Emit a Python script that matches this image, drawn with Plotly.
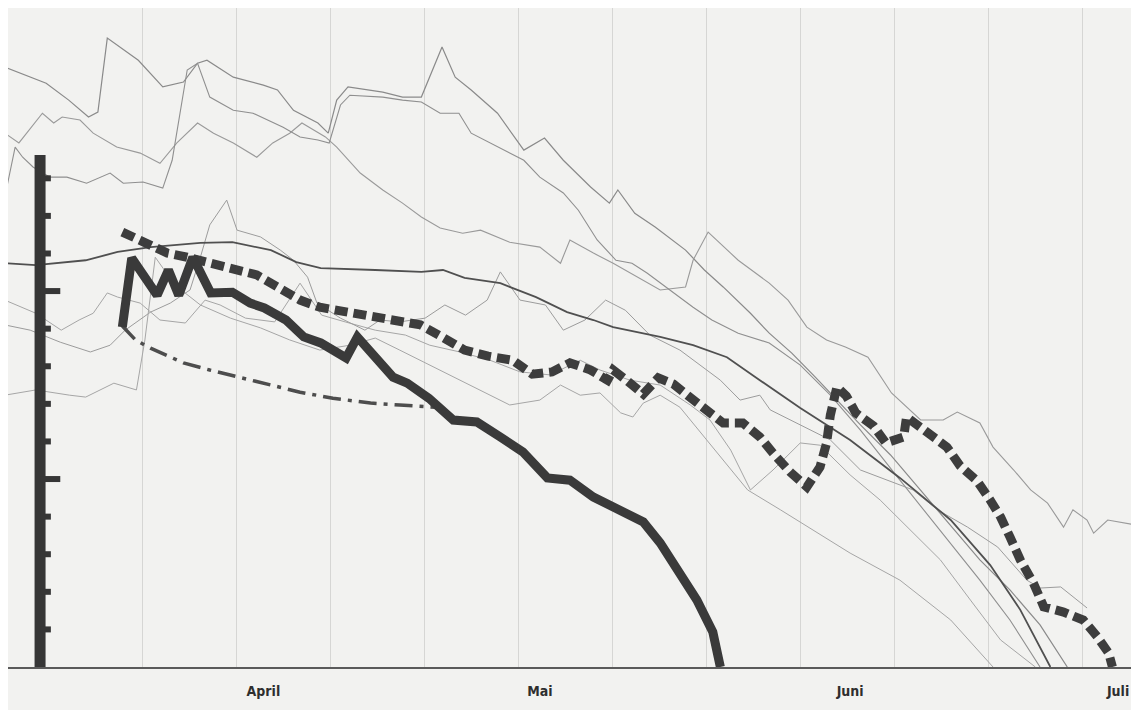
import plotly.graph_objects as go

# x: days (10-day grid), y: snow depth (cm, 10 per scale tick)
months = ["April", "Mai", "Juni", "Juli"]
month_pos = [22.9, 52.3, 85.3, 113.8]
grid_days = [10, 20, 30, 40, 50, 60, 70, 80, 90, 100, 110]

# thick solid series
thick_x = [7.9, 8.9, 11.6, 12.8, 13.9, 15.4, 17.3, 19.6, 21.5, 23.0, 25.3, 27.2, 29.0, 31.7, 32.9, 34.8,
           36.7, 38.2, 40.5, 43.1, 45.6, 48.1, 50.5, 53.1, 55.5, 58.0, 60.9, 63.3, 65.1, 67.2, 69.0, 70.7, 71.5]
thick_y = [90.4, 108.8, 98.9, 105.6, 98.9, 109.0, 99.5, 99.7, 96.8, 95.5, 92.3, 87.8, 86.2, 82.2, 87.8, 82.4,
           77.1, 75.5, 71.5, 65.7, 65.2, 61.2, 57.2, 50.3, 49.7, 45.2, 41.8, 38.6, 33.0, 25.0, 17.8, 9.3, 0]

# thick dashed series
dash_x = [7.9, 10.9, 12.7, 14.8, 17.2, 19.7, 22.2, 24.4, 26.8, 28.9, 31.8, 34.3, 37.1, 39.6, 41.9, 44.3,
          46.8, 49.4, 51.5, 53.6, 55.5, 57.7, 59.5, 60.1, 61.6, 63.3, 64.9, 66.5, 68.1, 70.1, 71.8, 73.9,
          75.7, 77.1, 78.9, 80.7, 82.1, 82.8, 83.2, 83.9, 84.9, 85.9, 87.8, 89.1, 91.0, 91.3, 92.8, 94.1,
          95.6, 97.0, 98.8, 100.2, 101.3, 102.3, 103.4, 104.8, 105.9, 108.0, 110.1, 111.6, 112.8, 113.2]
dash_y = [115.7, 112.2, 110.1, 109.0, 107.4, 106.1, 104.3, 101.1, 97.6, 95.7, 94.4, 93.6, 91.8, 91.0, 87.8, 84.3,
          82.7, 81.6, 77.9, 78.5, 80.9, 79.0, 76.3, 79.0, 76.1, 72.6, 76.9, 75.3, 72.1, 67.8, 64.9, 64.9,
          61.2, 56.9, 51.9, 47.9, 53.2, 59.6, 67.0, 74.5, 72.1, 67.6, 64.1, 59.6, 61.2, 66.5, 63.6, 61.2,
          58.5, 53.5, 49.5, 44.4, 39.9, 34.6, 28.5, 22.3, 16.0, 14.6, 12.5, 8.0, 3.7, 0]

# dash-dot series
dd_x = [7.9, 9.3, 10.9, 14.4, 17.2, 21.5, 26.8, 30.3, 34.3, 37.4, 41.2]
dd_y = [90.7, 87.0, 84.8, 80.9, 79.0, 76.3, 73.1, 71.5, 70.2, 69.7, 69.1]

# dark thin solid series
d_x = [-4.6, -1.3, 4.0, 7.4, 10.9, 16.2, 19.6, 23.7, 26.4, 29.0, 34.8, 39.7, 42.0, 44.3, 48.1, 51.9,
       55.2, 58.0, 60.1, 65.1, 68.6, 72.2, 75.7, 80.0, 85.3, 90.6, 96.0, 100.2, 103.4, 106.6]
d_y = [107.4, 106.9, 108.2, 110.4, 111.7, 112.8, 113.0, 110.9, 107.7, 106.1, 105.6, 105.1, 105.6, 103.5, 102.1, 98.4,
       94.4, 92.3, 90.4, 87.8, 85.6, 82.4, 76.3, 68.9, 60.4, 50.3, 39.1, 27.1, 15.2, 0]

# thin grey series
a_x = [-4.6, -0.2, 2.2, 4.3, 5.3, 6.3, 9.6, 12.2, 14.4, 15.9, 16.9, 19.7, 22.9, 24.4, 26.1, 28.7, 29.8,
       30.7, 31.9, 35.6, 37.7, 39.7, 41.9, 43.3, 45.0, 47.8, 50.6, 52.8, 54.8, 57.7, 59.7, 60.6, 62.4,
       64.6, 67.8, 69.8, 71.8, 74.7, 76.7, 79.1, 81.6, 83.2, 86.4, 89.6, 92.8, 96.0, 99.1, 102.3, 105.5, 108.4]
a_y = [159.6, 155.3, 150.8, 146.3, 147.6, 167.3, 161.4, 154.3, 155.6, 160.6, 161.4, 156.9, 154.8, 153.5, 148.1, 144.7, 142.0,
       150.8, 154.3, 152.9, 151.6, 151.6, 164.9, 156.9, 153.5, 147.3, 137.5, 140.7, 134.8, 127.7, 123.4, 126.9, 120.7,
       117.0, 110.9, 105.6, 101.1, 94.1, 88.8, 83.5, 77.1, 72.9, 64.4, 56.4, 47.1, 37.8, 28.5, 20.5, 11.2, 0]

b_x = [-4.6, -3.1, -0.6, 0.6, 1.5, 3.4, 4.8, 7.3, 9.8, 11.9, 13.7, 15.9, 17.6, 19.7, 22.2, 23.9, 25.7,
       27.0, 29.5, 30.7, 33.2, 35.6, 37.7, 39.7, 41.7, 44.1, 46.0, 49.1, 52.3, 54.5, 55.5, 58.0, 60.1,
       62.7, 65.1, 67.8, 68.6, 70.2, 71.4, 73.4, 76.7, 78.7, 80.7, 82.8, 84.8, 87.2, 89.7, 92.8, 95.2,
       96.7, 99.1, 100.5, 102.7, 104.5, 106.3, 108.0, 109.0, 110.5, 111.2, 112.7, 115.6]
b_y = [142.0, 139.4, 147.3, 144.7, 146.3, 145.5, 142.0, 138.3, 136.7, 134.0, 139.4, 144.7, 142.0, 139.4, 135.6, 139.4, 142.0,
       144.7, 141.0, 138.3, 131.4, 126.9, 123.4, 119.7, 116.8, 115.4, 116.2, 113.0, 111.7, 107.4, 113.6, 110.1, 107.4,
       103.7, 100.3, 101.1, 108.2, 115.7, 112.8, 108.2, 102.1, 97.6, 90.4, 87.0, 85.1, 82.4, 72.9, 65.7, 65.7,
       67.8, 64.9, 58.5, 52.4, 47.1, 43.6, 37.2, 41.8, 39.1, 35.6, 39.1, 37.8]

c_x = [-4.6, -3.5, -2.7, -1.6, 0.2, 2.0, 4.1, 6.6, 8.0, 10.1, 12.2, 13.2, 14.8, 15.9, 17.2, 19.7, 21.8,
       25.0, 26.8, 28.7, 29.9, 31.1, 32.1, 35.6, 37.7, 39.7, 41.7, 43.7, 45.0, 47.9, 50.6, 52.3, 54.8,
       56.4, 58.4, 60.4, 62.1, 63.7, 66.6, 68.6, 70.6, 73.4, 76.7, 80.0, 83.2, 86.4, 90.6, 94.9, 99.1, 102.3, 105.5]
c_y = [125.0, 138.3, 135.6, 133.0, 130.3, 130.3, 128.7, 131.4, 128.7, 129.0, 127.4, 134.8, 158.8, 160.6, 151.6, 148.1, 147.3,
       143.6, 141.0, 140.2, 139.4, 149.5, 152.1, 151.6, 150.8, 150.3, 147.3, 147.3, 142.0, 138.3, 134.8, 130.3, 126.1,
       121.5, 113.6, 108.2, 107.4, 104.8, 99.5, 95.7, 92.3, 88.8, 86.2, 80.3, 72.3, 63.0, 49.7, 36.4, 23.1, 12.5, 0]

e_x = [-4.6, -1.3, 1.4, 3.3, 4.8, 6.3, 7.4, 9.8, 11.9, 14.6, 16.7, 18.3, 21.0, 24.1, 26.8, 29.1, 31.6,
       34.8, 38.0, 40.6, 43.8, 47.0, 50.2, 53.4, 56.6, 58.7, 61.9, 65.1, 68.3, 70.4, 72.6, 74.7, 77.1,
       80.0, 82.1, 85.3, 88.5, 91.7, 94.9, 98.1, 101.3, 105.0]
e_y = [97.6, 94.1, 89.6, 92.3, 94.1, 99.5, 98.4, 96.8, 92.3, 91.5, 97.6, 96.3, 92.8, 91.8, 102.1, 93.6, 91.8,
       89.6, 88.3, 85.6, 83.8, 81.6, 78.5, 77.7, 81.6, 79.0, 76.3, 75.0, 69.7, 65.7, 57.7, 47.1, 52.4,
       59.6, 59.0, 51.1, 44.4, 36.4, 28.5, 17.8, 7.2, 0]

f_x = [-4.6, -1.9, 1.3, 4.5, 6.6, 8.2, 10.9, 13.0, 15.1, 16.2, 17.2, 19.0, 20.1, 22.6, 24.7, 26.1, 27.6,
       28.6, 31.1, 33.7, 35.3, 37.4, 40.1, 42.2, 44.4, 46.7, 48.1, 50.2, 52.9, 54.8, 57.1, 59.3, 61.4,
       64.0, 67.2, 71.5, 73.6, 75.7, 76.8, 80.0, 83.2, 86.4, 92.0, 94.6, 97.8, 101.0, 104.1, 105.5, 107.7, 110.5]
f_y = [91.0, 89.6, 86.4, 83.8, 85.6, 89.6, 94.4, 96.8, 100.3, 109.0, 117.6, 124.2, 116.2, 114.4, 110.9, 108.2, 103.7,
       96.8, 92.8, 89.6, 92.3, 91.8, 92.8, 96.3, 93.6, 97.6, 105.1, 97.6, 96.3, 89.6, 92.3, 97.6, 94.9,
       88.3, 84.3, 76.3, 71.0, 72.3, 68.4, 64.4, 60.4, 52.4, 47.1, 41.8, 37.2, 31.9, 23.1, 21.0, 21.3, 15.7]

g_x = [-4.6, -1.3, 2.3, 4.0, 7.0, 9.4, 10.3, 11.4, 13.5, 16.2, 19.4, 22.6, 25.7, 28.9, 32.1, 34.8, 37.4,
       40.6, 43.8, 47.0, 49.1, 52.3, 54.5, 56.6, 58.7, 60.9, 62.2, 63.3, 65.1, 67.2, 70.7, 74.4, 77.9,
       85.3, 90.6, 96.0, 100.5]
g_y = [72.3, 73.7, 72.3, 71.8, 75.5, 73.7, 87.0, 109.0, 101.6, 96.3, 92.8, 90.2, 87.0, 84.3, 85.6, 87.5, 84.3,
       80.3, 76.3, 72.3, 69.7, 71.0, 75.0, 72.3, 72.9, 67.6, 66.5, 70.2, 72.3, 69.1, 58.5, 47.1, 41.8,
       30.3, 23.1, 12.5, 0]

# measuring scale (left)
scale_x = -0.85
scale_top = 136.2
scale_ticks = [10, 20, 30, 40, 50, 60, 70, 80, 90, 100, 110, 120, 130]
long_ticks = [50, 100]

fig = go.Figure()

thin = [(a_x, a_y, "#8a8a8a", 1.2), (b_x, b_y, "#9a9a9a", 1.1), (c_x, c_y, "#8f8f8f", 1.1),
        (e_x, e_y, "#a6a6a6", 1.0), (f_x, f_y, "#9c9c9c", 1.0), (g_x, g_y, "#a6a6a6", 1.0)]
for xs, ys, col, w in thin:
    fig.add_trace(go.Scatter(x=xs, y=ys, mode="lines", line=dict(color=col, width=w),
                             hoverinfo="skip", showlegend=False))

fig.add_trace(go.Scatter(x=d_x, y=d_y, mode="lines", line=dict(color="#505050", width=1.8),
                         showlegend=False))
fig.add_trace(go.Scatter(x=dd_x, y=dd_y, mode="lines",
                         line=dict(color="#4d4d4d", width=3.5, dash="18px,7px,4px,7px"),
                         showlegend=False))
fig.add_trace(go.Scatter(x=dash_x, y=dash_y, mode="lines",
                         line=dict(color="#3d3d3d", width=9, dash="13px,6px"),
                         showlegend=False))
fig.add_trace(go.Scatter(x=thick_x, y=thick_y, mode="lines",
                         line=dict(color="#3a3a3a", width=9), showlegend=False))

# scale bar with ticks
fig.add_trace(go.Scatter(x=[scale_x, scale_x], y=[0, scale_top], mode="lines",
                         line=dict(color="#363636", width=11), showlegend=False))
tx, ty = [], []
for t in scale_ticks:
    right = 1.3 if t in long_ticks else 0.3
    tx += [scale_x, right, None]
    ty += [t, t, None]
fig.add_trace(go.Scatter(x=tx, y=ty, mode="lines", line=dict(color="#363636", width=6),
                         showlegend=False))

# the page body adds an 8px margin, so the figure is sized to fill the rest of the window
fig.update_layout(
    width=1131, height=702,
    margin=dict(l=0, r=4, t=0, b=43),
    paper_bgcolor="#f2f2f0", plot_bgcolor="#f2f2f0",
    xaxis=dict(range=[-4.26, 115.6], tickmode="array", tickvals=month_pos, ticktext=months,
               showgrid=False, zeroline=False, showline=True, linecolor="#5a5a5a", linewidth=2,
               ticks="", ticklabelstandoff=10,
               tickfont=dict(family="DejaVu Sans Condensed, Liberation Sans Narrow, sans-serif",
                             size=14, color="#2e2e2e", weight="bold"),
               minor=dict(tickmode="array", tickvals=grid_days, showgrid=True,
                          gridcolor="#d6d6d4", gridwidth=1, ticks="")),
    yaxis=dict(range=[0, 175.3], showgrid=False, zeroline=False, showticklabels=False, ticks=""),
)

fig.write_html("out.html")
